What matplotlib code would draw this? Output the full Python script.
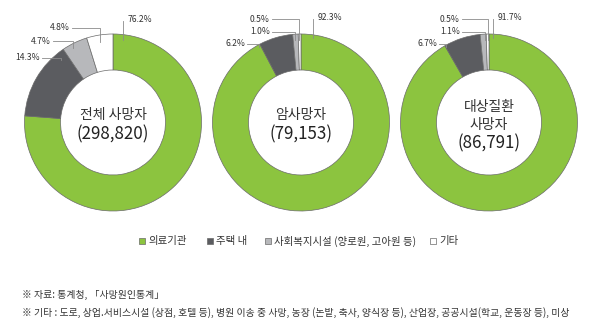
import matplotlib
matplotlib.use("Agg")
import matplotlib.pyplot as plt

plt.rcParams['font.family'] = ['Noto Sans CJK KR', 'DejaVu Sans']

# ---- data ----
categories = ['의료기관', '주택 내', '사회복지시설 (양로원, 고아원 등)', '기타']
total_vals = [76.2, 14.3, 4.7, 4.8]
cancer_vals = [92.3, 6.2, 1.0, 0.5]
target_vals = [91.7, 6.7, 1.1, 0.5]
titles = ['전체 사망자', '암사망자', '대상질환\n사망자']
counts = ['(298,820)', '(79,153)', '(86,791)']
series = [total_vals, cancer_vals, target_vals]

colors = ['#8cc43f', '#5b5c60', '#b7b8bb', '#ffffff']
source_note = '※ 자료: 통계청, 「사망원인통계」'
etc_note = '※ 기타 : 도로, 상업.서비스시설 (상점, 호텔 등), 병원 이송 중 사망, 농장 (논밭, 축사, 양식장 등), 산업장, 공공시설(학교, 운동장 등), 미상'

# ---- layout (pixels, y from top) ----
W, H = 600, 324
centers = [(113, 122.5), (301, 122.5), (489, 122.5)]
R_OUT, R_IN = 88.5, 52.5

# label leader layouts per donut: for slices 1..3 (text right x, text y, elbow x, end y)
side_layout = [
    [(40, 58, 61, 60), (51, 41, 73, 48), (70, 28, 100, 42)],
    [(245, 44, 259, 47), (270, 32, 295, 40), (270, 19, 299, 40)],
    [(437, 44, 446, 47), (460, 32, 485, 40), (460, 19, 488, 40)],
]
# main (green) label: line x, line top y, line bottom y
main_layout = [(123, 21, 40), (313, 19, 38), (493, 19, 38)]

fig = plt.figure(figsize=(6.0, 3.24), dpi=100)
ax = fig.add_axes([0, 0, 1, 1])
ax.set_xlim(0, W)
ax.set_ylim(0, H)
ax.set_aspect('equal')
ax.axis('off')

def Y(y):
    return H - y

line_c = '#8a8a8a'
txt_c = '#333333'

for i, vals in enumerate(series):
    cx, cy = centers[i]
    ax.pie(vals, colors=colors, center=(cx, Y(cy)), radius=R_OUT,
           startangle=90, counterclock=False,
           wedgeprops=dict(width=R_OUT - R_IN, edgecolor='#6a6a6a', linewidth=0.5))
    # center text
    if '\n' in titles[i]:
        l1, l2 = titles[i].split('\n')
        ax.text(cx, Y(107), l1, ha='center', va='center', fontsize=10, color=txt_c)
        ax.text(cx, Y(125), l2, ha='center', va='center', fontsize=10, color=txt_c)
        ax.text(cx, Y(143), counts[i], ha='center', va='center', fontsize=12.2, color='#222222')
    else:
        ax.text(cx, Y(115), titles[i], ha='center', va='center', fontsize=10, color=txt_c)
        ax.text(cx, Y(134), counts[i], ha='center', va='center', fontsize=12.2, color='#222222')
    # main label
    lx, ly0, ly1 = main_layout[i]
    ax.plot([lx, lx], [Y(ly1), Y(ly0)], color=line_c, lw=0.6)
    ax.text(lx + 5, Y(ly0 - 2), f'{vals[0]:.1f}%', ha='left', va='center', fontsize=6.2, color=txt_c)
    # side labels
    for j, (tx, ty, ex, ey) in enumerate(side_layout[i]):
        ax.plot([tx + 2, ex, ex], [Y(ty), Y(ty), Y(ey)], color=line_c, lw=0.6)
        ax.text(tx, Y(ty), f'{vals[j + 1]:.1f}%', ha='right', va='center', fontsize=6.2, color=txt_c)

ax.set_xlim(0, W)
ax.set_ylim(0, H)

# legend
leg_x = [142, 210, 268, 433]
leg_y = 241
for k, name in enumerate(categories):
    ax.add_patch(plt.Rectangle((leg_x[k] - 3, Y(leg_y) - 3), 6, 6, facecolor=colors[k],
                               edgecolor='#6a6a6a', linewidth=0.5))
    ax.text(leg_x[k] + 6, Y(leg_y), name, ha='left', va='center', fontsize=7.5, color=txt_c)

# notes
ax.text(22, Y(295), source_note, ha='left', va='center', fontsize=7.1, color=txt_c)
ax.text(22, Y(313), etc_note, ha='left', va='center', fontsize=7.1, color=txt_c)

fig.savefig('out.png', dpi=100)
